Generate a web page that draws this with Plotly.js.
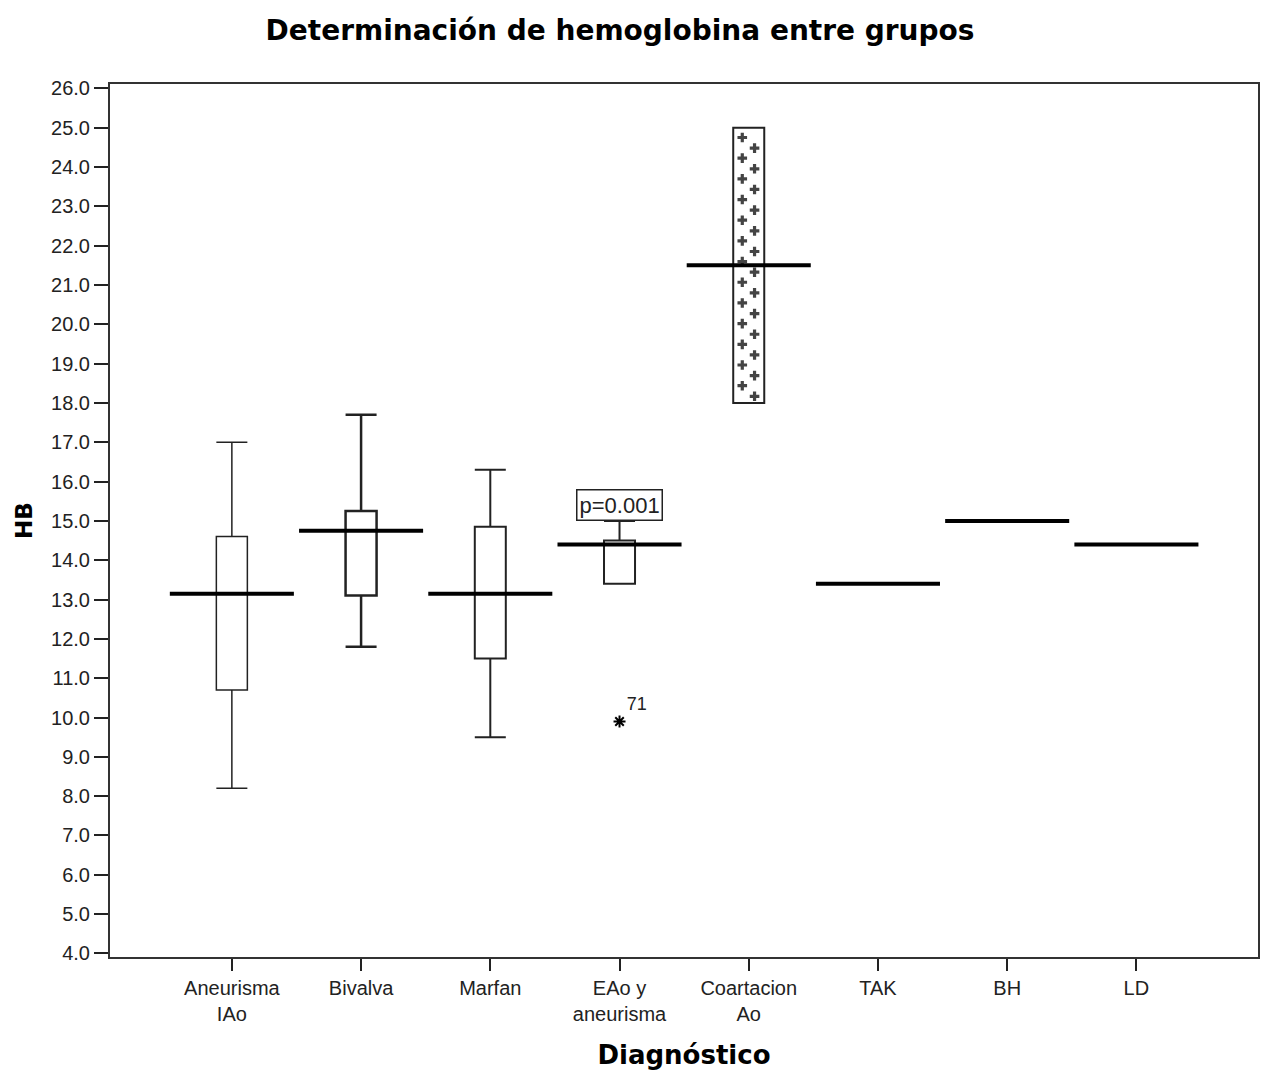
<!DOCTYPE html>
<html>
<head>
<meta charset="utf-8">
<script src="https://cdn.plot.ly/plotly-3.0.1.min.js"></script>
<style>html,body{margin:0;padding:0;background:#fff;}#chart{width:1261px;height:1074px;}</style>
</head>
<body>
<div id="chart"></div>
<script>
// ---- data ----
const groups = ["Aneurisma<br>IAo", "Bivalva", "Marfan", "EAo y<br>aneurisma", "Coartacion<br>Ao", "TAK", "BH", "LD"];
const q1     = [10.7, 13.1, 11.5, 13.4, 18.0, 13.4, 15.0, 14.4];
const median = [13.15, 14.75, 13.15, 14.4, 21.5, 13.4, 15.0, 14.4];
const q3     = [14.6, 15.25, 14.85, 14.5, 25.0, 13.4, 15.0, 14.4];
const lowerW = [8.2, 11.8, 9.5, 13.4, 18.0, 13.4, 15.0, 14.4];
const upperW = [17.0, 17.7, 16.3, 15.0, 25.0, 13.4, 15.0, 14.4];
const patterned = [false, false, false, false, true, false, false, false];
const lineWidthPx = [1.5, 2.5, 2, 2, 2, 2, 2, 2];

const outlierGroup = [3];
const outlierValue = [9.9];
const outlierLabel = ["71"];

const pLabelGroup = 3;
const pLabelText = "p=0.001";

const yTicks = [4,5,6,7,8,9,10,11,12,13,14,15,16,17,18,19,20,21,22,23,24,25,26];

// ---- build traces ----
const traces = [];
const idx = groups.map((g, i) => i);
const BOXW = 0.24;

idx.forEach(i => {
  if (q3[i] <= q1[i]) return;
  if (patterned[i]) {
    traces.push({
      type: 'bar', x: [i], base: [q1[i]], y: [q3[i] - q1[i]], width: BOXW,
      marker: {color: '#ffffff', line: {color: '#222', width: 2}},
      hoverinfo: 'skip'
    });
    // staggered "+" texture inside the patterned box (derived from its q1/q3)
    const px = [], py = [];
    const step = 0.526;
    [[-0.05, 0.25], [0.045, 0.52]].forEach(([dx, start]) => {
      for (let y = q3[i] - start; y > q1[i] + 0.12; y -= step) { px.push(i + dx); py.push(y); }
    });
    traces.push({type: 'scatter', mode: 'markers', x: px, y: py,
      marker: {symbol: 'cross', size: 8, color: '#444', line: {width: 0}},
      hoverinfo: 'skip'});
  } else {
    traces.push({
      type: 'box', x: [i], q1: [q1[i]], median: [median[i]], q3: [q3[i]],
      lowerfence: [lowerW[i]], upperfence: [upperW[i]],
      width: BOXW, whiskerwidth: 1, boxpoints: false,
      fillcolor: '#ffffff', line: {color: '#222', width: lineWidthPx[i]},
      hoverinfo: 'skip'
    });
  }
});

// median lines spanning the category width
const mx = [], my = [];
idx.forEach(i => { mx.push(i - 0.48, i + 0.48, null); my.push(median[i], median[i], null); });
traces.push({type: 'scatter', mode: 'lines', x: mx, y: my,
  line: {color: '#000', width: 4}, hoverinfo: 'skip'});

// outliers
traces.push({type: 'scatter', mode: 'markers+text', x: outlierGroup, y: outlierValue,
  text: outlierLabel, textposition: 'top right',
  textfont: {family: 'Liberation Sans, Arial, sans-serif', size: 18, color: '#222'},
  marker: {symbol: 'asterisk-open', size: 10, color: '#000', line: {color: '#000', width: 2}},
  hoverinfo: 'skip'});

const layout = {
  width: 1261, height: 1074,
  paper_bgcolor: '#ffffff', plot_bgcolor: '#ffffff',
  showlegend: false,
  margin: {l: 110, r: 3, t: 84, b: 117},
  title: {text: 'Determinación de hemoglobina entre grupos',
    font: {family: 'DejaVu Sans, sans-serif', size: 28, color: '#000', weight: 'bold'},
    xref: 'container', x: 0.4917, xanchor: 'center',
    yref: 'container', y: 0.972, yanchor: 'middle'},
  xaxis: {
    range: [-0.943, 7.941], tickmode: 'array', tickvals: idx, ticktext: groups,
    ticks: 'outside', ticklen: 12, tickwidth: 2, tickcolor: '#222',
    showline: true, linewidth: 2, linecolor: '#333', mirror: true,
    showgrid: false, zeroline: false,
    tickfont: {family: 'Liberation Sans, Arial, sans-serif', size: 20, color: '#222'},
    title: {text: 'Diagnóstico', standoff: 22,
      font: {family: 'DejaVu Sans, sans-serif', size: 26, color: '#000', weight: 'bold'}}
  },
  yaxis: {
    range: [3.91, 26.11], tickmode: 'array', tickvals: yTicks,
    ticktext: yTicks.map(v => v.toFixed(1)),
    ticks: 'outside', ticklen: 14, tickwidth: 2, tickcolor: '#222',
    showline: true, linewidth: 2, linecolor: '#333', mirror: true,
    showgrid: false, zeroline: false,
    tickfont: {family: 'Liberation Sans, Arial, sans-serif', size: 20, color: '#222'},
    title: {text: 'HB', standoff: 12,
      font: {family: 'DejaVu Sans, sans-serif', size: 23, color: '#000', weight: 'bold'}}
  },
  annotations: [{
    x: pLabelGroup, y: upperW[pLabelGroup], xref: 'x', yref: 'y',
    text: pLabelText, showarrow: false, xanchor: 'center', yanchor: 'bottom',
    font: {family: 'Liberation Sans, Arial, sans-serif', size: 22, color: '#222'},
    bordercolor: '#222', borderwidth: 1.5, borderpad: 2, bgcolor: '#ffffff'
  }]
};

Plotly.newPlot('chart', traces, layout, {staticPlot: true, displayModeBar: false});
</script>
</body>
</html>
